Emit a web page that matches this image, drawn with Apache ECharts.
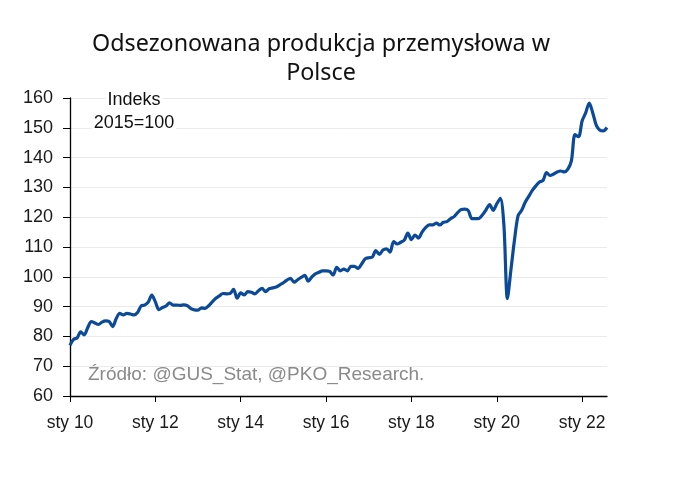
<!DOCTYPE html>
<html>
<head>
<meta charset="utf-8">
<script src="https://cdn.jsdelivr.net/npm/echarts@6/dist/echarts.min.js"></script>
<style>html,body{margin:0;padding:0;background:#fff}#c{width:684px;height:501px}</style>
</head>
<body>
<div id="c"></div>
<script>
// Monthly index values (2015=100), Jan 2010 – Aug 2022
const v2010 = [77, 79, 79.5, 81.5, 80.5, 83, 85, 84.5, 84, 84.8, 85.2, 85];
const v2011 = [83.3, 86, 87.7, 87.2, 87.7, 87.5, 87.2, 88, 90.2, 90.5, 91.5, 93.9];
const v2012 = [91.6, 89, 89.7, 90.2, 91.3, 90.5, 90.5, 90.4, 90.6, 90.3, 89.3, 88.9];
const v2013 = [88.8, 89.6, 89.4, 90.3, 91.6, 92.8, 93.6, 94.4, 94.3, 94.4, 95.8, 92.8];
const v2014 = [94.6, 93.9, 95, 94.8, 94.3, 95.3, 96.1, 95, 96, 96.3, 96.6, 97.3];
const v2015 = [98, 98.9, 99.5, 98.2, 99, 99.8, 100.5, 98.5, 100, 101, 101.5, 102];
const v2016 = [102, 101.8, 100.6, 103.2, 102, 102.6, 102, 103.5, 103.5, 102.8, 104.3, 106];
const v2017 = [106.4, 106.6, 108.8, 107.5, 109, 109.4, 108.3, 111.8, 111, 111.6, 112.3, 114.7];
const v2018 = [112.5, 114, 113, 115, 116.5, 117.4, 117.4, 118, 117.4, 118.3, 118.5, 119.5];
const v2019 = [120.2, 121.5, 122.6, 122.7, 122.2, 119.5, 119.5, 119.6, 120.8, 122.5, 124.2, 122.3];
const v2020 = [124.5, 126.3, 117.5, 92.7, 102.5, 112.5, 120.5, 122.3, 125, 127, 129, 130.5];
const v2021 = [131.8, 132.3, 135, 134, 134.5, 135.2, 135.5, 135.2, 136.1, 139, 147.7, 147];
const v2022 = [152.3, 155, 158.3, 155, 150.8, 149.2, 149, 150.1];

const years = [2010, 2011, 2012, 2013, 2014, 2015, 2016, 2017, 2018, 2019, 2020, 2021, 2022];
const yearly = [v2010, v2011, v2012, v2013, v2014, v2015, v2016, v2017, v2018, v2019, v2020, v2021, v2022];

const titleLines = ["Odsezonowana produkcja przemysłowa w", "Polsce"];
const unitLines = ["Indeks", "2015=100"];
const sourceText = "Źródło: @GUS_Stat, @PKO_Research.";
const monthPrefix = "sty ";

const categories = [];
const values = [];
yearly.forEach((arr, i) => {
  arr.forEach((val, m) => {
    categories.push(years[i] + "-" + String(m + 1).padStart(2, "0"));
    values.push(val);
  });
});

const chart = echarts.init(document.getElementById('c'), null, {renderer: 'canvas'});
const FONT = '"Liberation Sans", Arial, sans-serif';
const isTick = (idx, val) => val.endsWith('-01') && (parseInt(val) % 2 === 0);
chart.setOption({
  animation: false,
  backgroundColor: '#ffffff',
  grid: {left: 70, right: 77, top: 98, bottom: 105, containLabel: false},
  xAxis: {
    type: 'category',
    data: categories,
    boundaryGap: false,
    axisLine: {lineStyle: {color: '#000', width: 1.3}},
    axisTick: {length: 6, lineStyle: {color: '#000'}, interval: isTick},
    axisLabel: {
      interval: isTick,
      formatter: (val) => monthPrefix + val.substring(2, 4),
      color: '#1a1a1a',
      fontFamily: FONT,
      fontSize: 17.5,
      margin: 18
    },
    splitLine: {show: false}
  },
  yAxis: {
    type: 'value',
    min: 60, max: 160, interval: 10,
    axisLine: {show: true, lineStyle: {color: '#000', width: 1.3}},
    axisTick: {show: true, length: 7, lineStyle: {color: '#000'}},
    axisLabel: {color: '#1a1a1a', fontFamily: FONT, fontSize: 18, margin: 17},
    splitLine: {show: true, lineStyle: {color: '#ebebeb', width: 1}}
  },
  series: [{
    type: 'line',
    data: values,
    showSymbol: false,
    smooth: 0.3,
    lineStyle: {color: '#0b4a98', width: 3.2},
    itemStyle: {color: '#0b4a98'}
  }],
  graphic: [
    {type: 'text', x: 321, y: 44, silent: true,
      style: {text: titleLines[0], fill: '#111', font: '23.3px "Noto Sans", sans-serif', textAlign: 'center', textVerticalAlign: 'middle'}},
    {type: 'text', x: 321, y: 73, silent: true,
      style: {text: titleLines[1], fill: '#111', font: '23.3px "Noto Sans", sans-serif', textAlign: 'center', textVerticalAlign: 'middle'}},
    {type: 'text', x: 134, y: 100, silent: true, z: 100,
      style: {text: unitLines[0], fill: '#111', font: '18px "Liberation Sans", sans-serif', textAlign: 'center', textVerticalAlign: 'middle', backgroundColor: '#fff', padding: [0, 2]}},
    {type: 'text', x: 134, y: 123, silent: true, z: 100,
      style: {text: unitLines[1], fill: '#111', font: '18px "Liberation Sans", sans-serif', textAlign: 'center', textVerticalAlign: 'middle', backgroundColor: '#fff', padding: [0, 2]}},
    {type: 'text', x: 88, y: 375, silent: true,
      style: {text: sourceText, fill: '#8a8a8a', font: '19px "Liberation Sans", sans-serif', textAlign: 'left', textVerticalAlign: 'middle'}}
  ]
});
</script>
</body>
</html>
